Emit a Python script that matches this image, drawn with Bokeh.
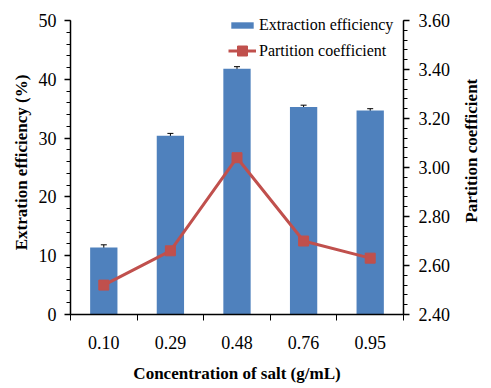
import math
from bokeh.plotting import figure
from bokeh.layouts import row, column
from bokeh.models import (Range1d, LinearAxis, FixedTicker, SingleIntervalTicker,
                          NumeralTickFormatter, ColumnDataSource, Whisker, TeeHead,
                          Legend, LegendItem)
from bokeh.core.properties import value
from bokeh.embed import file_html
from bokeh.resources import INLINE

categories = ["0.10", "0.29", "0.48", "0.76", "0.95"]
extraction = [11.4, 30.4, 41.8, 35.3, 34.7]
extraction_err = [0.45, 0.4, 0.35, 0.3, 0.3]
partition = [2.52, 2.66, 3.04, 2.70, 2.63]
left_title = "Extration efficiency (%)"
right_title = "Partition coefficient"
bottom_title = "Concentration of salt (g/mL)"

BLUE = "#4F81BD"
RED = "#C0504D"
FONT = "Liberation Serif"
H1 = 362
W1 = 453
WS = 30
HB = 22

# frame extends a little above the top tick (room for the legend); axes are bounded
HEAD = 304 / 294
xs = [i + 0.5 for i in range(len(categories))]
src = ColumnDataSource(dict(
    x=xs, ext=extraction,
    lo=[v - e for v, e in zip(extraction, extraction_err)],
    hi=[v + e for v, e in zip(extraction, extraction_err)],
    pc=partition,
))

p = figure(width=W1, height=H1, output_backend="svg", toolbar_location=None,
           x_range=Range1d(0, len(categories)), y_range=Range1d(0, 50 * HEAD),
           min_border_left=70, min_border_right=50, min_border_top=10, min_border_bottom=48)
p.outline_line_color = None
p.xgrid.visible = False
p.ygrid.visible = False
p.extra_y_ranges = {"pc": Range1d(2.4, 2.4 + 1.2 * HEAD)}

bars = p.vbar(x="x", top="ext", width=0.41, source=src, fill_color=BLUE, line_color=None)
p.add_layout(Whisker(source=src, base="x", lower="lo", upper="hi", dimension="height",
                     line_color="black", line_width=1,
                     upper_head=TeeHead(size=6, line_color="black", line_width=1),
                     lower_head=TeeHead(size=6, line_color="black", line_width=1)))
ln = p.line(x="x", y="pc", source=src, y_range_name="pc", line_color=RED, line_width=3)
mk = p.scatter(x="x", y="pc", source=src, y_range_name="pc", marker="square", size=10,
               fill_color=RED, line_color=RED)

# x axis (its title is drawn in a strip below)
xa = p.xaxis[0]
xa.ticker = FixedTicker(ticks=xs, minor_ticks=list(range(len(categories) + 1)))
xa.major_label_overrides = {x: c for x, c in zip(xs, categories)}
xa.major_tick_out = 0
xa.major_tick_in = 0
xa.minor_tick_out = 6
xa.minor_tick_in = 0
xa.major_label_standoff = 15

# left axis
ya = p.yaxis[0]
ya.ticker = SingleIntervalTicker(interval=10, num_minor_ticks=5)
ya.bounds = (0, 50)
ya.major_tick_out = 6
ya.major_tick_in = 0
ya.minor_tick_out = 4
ya.minor_tick_in = 0
ya.major_label_standoff = 8
ya.axis_label = left_title
ya.axis_label_standoff = 5

# right axis (its title is drawn in a narrow side panel)
ra = LinearAxis(y_range_name="pc")
ra.ticker = SingleIntervalTicker(interval=0.2, num_minor_ticks=5)
ra.bounds = (2.4, 3.6)
ra.formatter = NumeralTickFormatter(format="0.00")
ra.major_tick_out = 6
ra.major_tick_in = 0
ra.minor_tick_out = 4
ra.minor_tick_in = 0
ra.major_label_standoff = 9
p.add_layout(ra, "right")

for ax in (xa, ya, ra):
    ax.axis_line_color = "black"
    ax.axis_line_width = 1.5
    ax.major_tick_line_color = "black"
    ax.major_tick_line_width = 1.5
    ax.minor_tick_line_color = "black"
    ax.minor_tick_line_width = 1
    ax.major_label_text_font = FONT
    ax.major_label_text_font_size = "18px"
    ax.major_label_text_color = "black"
    ax.axis_label_text_font = FONT
    ax.axis_label_text_font_size = "17px"
    ax.axis_label_text_font_style = "bold"
    ax.axis_label_text_color = "black"

leg1 = Legend(items=[LegendItem(label="Extraction efficiency", renderers=[bars])],
              location=(158, 280), glyph_width=28, glyph_height=8, label_height=8,
              padding=0, margin=0, label_standoff=3)
leg2 = Legend(items=[LegendItem(label="Partition coefficient", renderers=[ln, mk])],
              location=(158, 251), glyph_width=28, glyph_height=25, label_height=25,
              padding=0, margin=0, label_standoff=3)
for lg in (leg1, leg2):
    lg.border_line_color = None
    lg.background_fill_alpha = 0
    lg.label_text_font = FONT
    lg.label_text_font_size = "16px"
    lg.label_text_color = "black"
    p.add_layout(lg, "center")


def blank(w, h, xr, yr):
    f = figure(width=w, height=h, output_backend="svg", toolbar_location=None,
               x_range=xr, y_range=yr, x_axis_type=None, y_axis_type=None,
               min_border_left=0, min_border_right=0, min_border_top=0, min_border_bottom=0)
    f.outline_line_color = None
    f.xgrid.visible = False
    f.ygrid.visible = False
    return f


# side panel holding the right-hand axis title, reading bottom to top
s = blank(WS, H1, Range1d(0, 1), Range1d(0, H1))
s.text(x=[0.6], y=[H1 - 167], text=[right_title], angle=math.pi / 2,
       text_align="center", text_baseline="middle",
       text_font=value(FONT), text_font_size="17px", text_font_style="bold",
       text_color="black")

# strip holding the x-axis title
b = blank(W1 + WS, HB, Range1d(0, W1 + WS), Range1d(0, HB))
b.text(x=[236.5], y=[HB / 2], text=[bottom_title],
       text_align="center", text_baseline="middle",
       text_font=value(FONT), text_font_size="17px", text_font_style="bold",
       text_color="black")

layout = column(row(p, s), b)
open("out.html", "w").write(file_html(layout, INLINE))
